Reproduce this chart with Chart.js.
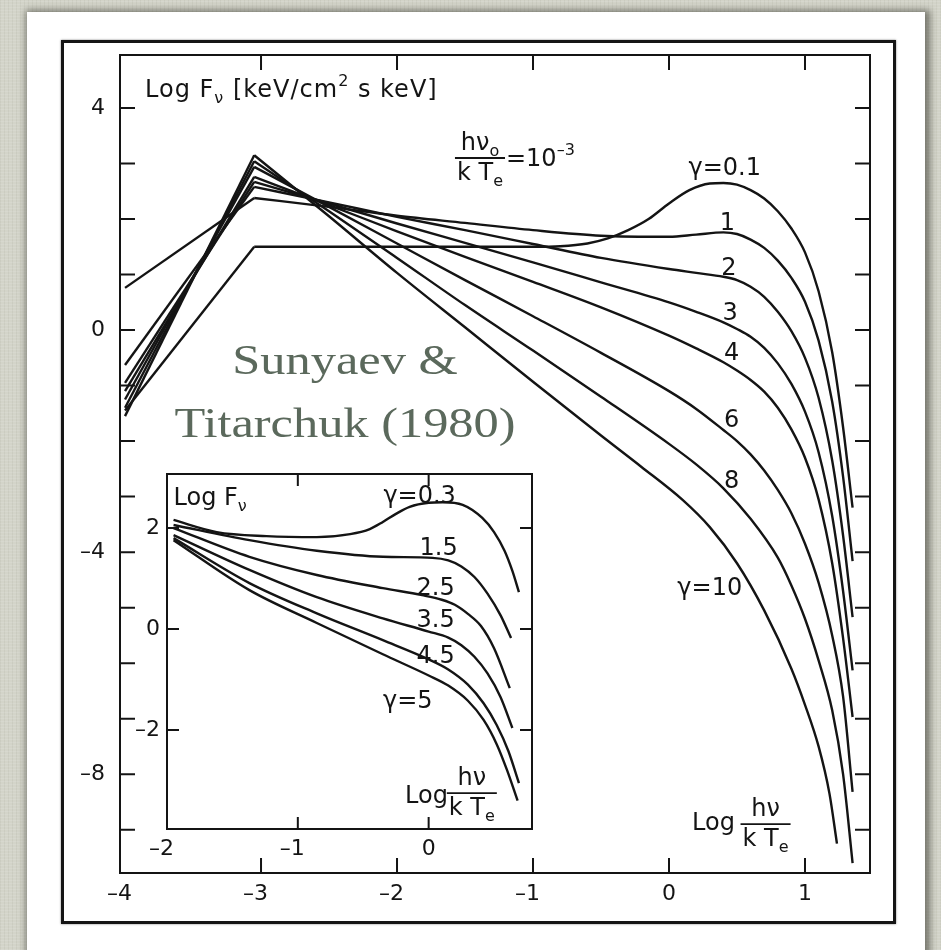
<!DOCTYPE html>
<html>
<head>
<meta charset="utf-8">
<script src="https://cdn.jsdelivr.net/npm/chart.js@4.4.1/dist/chart.umd.min.js"></script>
<style>
  html, body { margin: 0; padding: 0; }
  body {
    width: 941px; height: 950px; position: relative; overflow: hidden;
    background-color: #d3d4c9;
    background-image:
      repeating-linear-gradient(0deg, rgba(255,255,255,.10) 0 1px, transparent 1px 3px),
      repeating-linear-gradient(90deg, rgba(80,80,60,.06) 0 1px, transparent 1px 4px);
  }
  #card {
    position: absolute; left: 27px; top: 12px; width: 898px; height: 950px;
    background: #fff; box-shadow: 2px 1px 7px 3px rgba(55,55,45,.6);
  }
  #frame {
    position: absolute; left: 61px; top: 40px; width: 829px; height: 878px;
    border: 3px solid #151515; box-shadow: 0 0 2px rgba(0,0,0,.5);
  }
  canvas { position: absolute; }
  #main { left: 0; top: 0; }
  #inset { left: 100px; top: 440px; }
  #credit {
    position: absolute; left: 150px; top: 329px; width: 390px;
    text-align: center; color: #5b695c; font: 42px/63px 'Liberation Serif', serif;
    transform: scaleX(1.2); transform-origin: 195px 0;
  }
</style>
</head>
<body>
<div id="card"></div>
<div id="frame"></div>
<canvas id="main" width="941" height="950"></canvas>
<canvas id="inset" width="460" height="440"></canvas>
<div id="credit">Sunyaev &amp;<br>Titarchuk (1980)</div>
<script>
// log(hν/kTe) and log Fν for each γ, main panel (hν0/kTe = 1e-3)
// rising branch below the injected photons
const riseX = [-4.0, -3.05];
const rise01 = [-1.45, 1.5];
const rise1  = [0.76, 2.38];
const rise2  = [-0.63, 2.58];
const rise3  = [-0.95, 2.67];
const rise4  = [-1.1, 2.76];
const rise6  = [-1.25, 2.94];
const rise8  = [-1.4, 3.04];
const rise10 = [-1.55, 3.15];

// Comptonized branch above the injected photons
const g01X = [-3.05, -2.5, -2, -1.5, -1, -0.8, -0.6, -0.45, -0.3, -0.15, 0, 0.15, 0.3, 0.4, 0.5, 0.6, 0.7, 0.8, 0.9, 1.0, 1.1, 1.2, 1.28, 1.35];
const g01Y = [1.5, 1.5, 1.5, 1.5, 1.5, 1.51, 1.56, 1.65, 1.8, 2.0, 2.28, 2.52, 2.64, 2.65, 2.62, 2.52, 2.37, 2.14, 1.83, 1.4, 0.7, -0.4, -1.75, -3.2];
const gX = [-3.05, -2.5, -2, -1.5, -1, -0.5, 0, 0.2, 0.4, 0.5, 0.6, 0.7, 0.8, 0.9, 1.0, 1.1, 1.2, 1.28, 1.35];
const g1Y = [2.38, 2.22, 2.06, 1.93, 1.8, 1.7, 1.68, 1.72, 1.76, 1.73, 1.63, 1.48, 1.25, 0.94, 0.51, -0.19, -1.29, -2.64, -4.16];
const g2Y = [2.58, 2.3, 2.04, 1.8, 1.55, 1.3, 1.1, 1.03, 0.96, 0.9, 0.78, 0.6, 0.33, -0.02, -0.5, -1.22, -2.35, -3.7, -5.17];
const g3Y = [2.67, 2.28, 1.92, 1.57, 1.22, 0.86, 0.5, 0.33, 0.14, 0.02, -0.12, -0.32, -0.6, -0.97, -1.47, -2.2, -3.35, -4.7, -6.13];
const g4Y = [2.76, 2.25, 1.78, 1.32, 0.87, 0.41, -0.1, -0.33, -0.58, -0.73, -0.9, -1.11, -1.4, -1.79, -2.3, -3.05, -4.2, -5.55, -6.97];
const g6Y = [2.94, 2.22, 1.56, 0.9, 0.25, -0.41, -1.1, -1.42, -1.8, -2.0, -2.24, -2.53, -2.88, -3.3, -3.85, -4.55, -5.5, -6.6, -8.32];
const g8X = [-3.05, -2.5, -2, -1.5, -1, -0.5, 0, 0.2, 0.4, 0.6, 0.8, 0.9, 1.0, 1.1, 1.2, 1.28, 1.35];
const g8Y = [3.04, 2.14, 1.3, 0.45, -0.37, -1.2, -2.05, -2.42, -2.85, -3.4, -4.1, -4.6, -5.2, -5.95, -6.85, -8.0, -9.6];
const g10X = [-3.05, -2.5, -2, -1.5, -1, -0.5, -0.2, 0.1, 0.3, 0.5, 0.7, 0.9, 1.0, 1.1, 1.18, 1.235];
const g10Y = [3.15, 2.05, 1.03, 0.05, -0.93, -1.9, -2.47, -3.06, -3.55, -4.2, -5.05, -6.1, -6.75, -7.5, -8.35, -9.25];

// inset panel
const in03X = [-1.95, -1.62, -1.24, -0.855, -0.6, -0.45, -0.35, -0.25, -0.145, 0.0, 0.107, 0.26, 0.41, 0.5, 0.58, 0.64, 0.69];
const in03 = [2.16, 1.92, 1.84, 1.82, 1.88, 1.98, 2.12, 2.28, 2.42, 2.5, 2.51, 2.46, 2.2, 1.92, 1.55, 1.15, 0.73];
const in15X = [-1.95, -1.37, -0.855, -0.35, 0.03, 0.15, 0.25, 0.35, 0.45, 0.55, 0.63];
const in15 = [2.06, 1.76, 1.55, 1.43, 1.41, 1.36, 1.24, 1.03, 0.7, 0.27, -0.18];
const in25X = [-1.95, -1.37, -0.855, -0.35, -0.05, 0.1, 0.2, 0.3, 0.4, 0.5, 0.62];
const in25 = [2.0, 1.43, 1.07, 0.81, 0.67, 0.58, 0.48, 0.3, 0.06, -0.38, -1.17];
const in35X = [-1.95, -1.37, -0.855, -0.35, 0.0, 0.15, 0.25, 0.35, 0.45, 0.55, 0.64];
const in35 = [1.86, 1.17, 0.63, 0.21, -0.05, -0.17, -0.32, -0.55, -0.88, -1.35, -1.96];
const in45X = [-1.95, -1.37, -0.855, -0.35, 0.0, 0.15, 0.3, 0.42, 0.52, 0.61, 0.69];
const in45 = [1.8, 0.91, 0.31, -0.22, -0.6, -0.8, -1.1, -1.47, -1.9, -2.42, -3.05];
const in5X = [-1.95, -1.37, -0.855, -0.35, 0.0, 0.15, 0.3, 0.42, 0.52, 0.6, 0.68];
const in5 = [1.76, 0.77, 0.12, -0.5, -0.92, -1.12, -1.42, -1.8, -2.28, -2.8, -3.4];

const ink = '#141414';
const FONT = "'DejaVu Sans',sans-serif";
const DASH = '\u2013';

const pts = (xs, ys) => xs.map((x, i) => ({ x, y: ys[i] }));
const fmt = v => (v < 0 ? DASH + Math.abs(v) : String(v));

function curve(xs, ys, smooth) {
  return {
    data: pts(xs, ys), showLine: true, pointRadius: 0, borderColor: ink,
    borderWidth: 2.4, tension: 0, cubicInterpolationMode: smooth ? 'monotone' : 'default'
  };
}

function fontFor(kind, size) {
  return (kind === 'n' ? size : Math.round(size * 0.68)) + 'px ' + FONT;
}
function richWidth(ctx, parts, size) {
  let w = 0;
  parts.forEach(([t, k]) => { ctx.font = fontFor(k, size); w += ctx.measureText(t).width; });
  return w;
}
function drawRich(ctx, x, y, parts, size, align) {
  const w = richWidth(ctx, parts, size);
  let cx = align === 'center' ? x - w / 2 : align === 'right' ? x - w : x;
  ctx.textAlign = 'left';
  ctx.textBaseline = 'alphabetic';
  parts.forEach(([t, k]) => {
    ctx.font = fontFor(k, size);
    const dy = k === 'sub' ? size * 0.25 : k === 'sup' ? -size * 0.45 : 0;
    ctx.fillText(t, cx, y + dy);
    cx += ctx.measureText(t).width;
  });
  return w;
}
function drawFrac(ctx, cx, ly, num, den, size) {
  const w = Math.max(richWidth(ctx, num, size), richWidth(ctx, den, size)) + 4;
  drawRich(ctx, cx, ly - 8, num, size, 'center');
  drawRich(ctx, cx, ly + size * 0.9, den, size, 'center');
  ctx.beginPath();
  ctx.moveTo(cx - w / 2, ly);
  ctx.lineTo(cx + w / 2, ly);
  ctx.lineWidth = 1.8;
  ctx.stroke();
  return w;
}

// axes box with inward ticks on all four sides
const boxTicks = {
  id: 'boxTicks',
  beforeDatasetsDraw(chart, args, opts) {
    if (!opts.fill) return;
    const a = chart.chartArea;
    chart.ctx.save();
    chart.ctx.fillStyle = '#fff';
    chart.ctx.fillRect(a.left, a.top, a.width, a.height);
    chart.ctx.restore();
  },
  afterDatasetsDraw(chart, args, opts) {
    const { ctx, chartArea: a, scales: { x, y } } = chart;
    ctx.save();
    ctx.strokeStyle = ink;
    ctx.lineWidth = opts.lineWidth;
    ctx.strokeRect(a.left, a.top, a.width, a.height);
    ctx.beginPath();
    x.ticks.forEach(t => {
      const p = x.getPixelForValue(t.value);
      if (p - a.left < 10 || a.right - p < 10) return;
      ctx.moveTo(p, a.bottom); ctx.lineTo(p, a.bottom - opts.len);
      ctx.moveTo(p, a.top); ctx.lineTo(p, a.top + opts.len);
    });
    y.ticks.forEach(t => {
      const p = y.getPixelForValue(t.value);
      if (p - a.top < 10 || a.bottom - p < 10) return;
      ctx.moveTo(a.left, p); ctx.lineTo(a.left + opts.len, p);
      ctx.moveTo(a.right, p); ctx.lineTo(a.right - opts.len, p);
    });
    ctx.stroke();
    ctx.restore();
  }
};

const mainText = {
  id: 'mainText',
  afterDraw(chart) {
    const { ctx, scales: { x, y } } = chart;
    const X = v => x.getPixelForValue(v), Y = v => y.getPixelForValue(v);
    ctx.save();
    ctx.fillStyle = ink; ctx.strokeStyle = ink;
    ctx.letterSpacing = '1px';
    drawRich(ctx, X(-3.853), Y(4.2), [['Log F', 'n'], ['ν', 'sub'], [' [keV/cm', 'n'], ['2', 'sup'], [' s keV]', 'n']], 24, 'left');
    ctx.letterSpacing = '0px';
    const w = drawFrac(ctx, X(-1.39), Y(3.1), [['hν', 'n'], ['o', 'sub']], [['k T', 'n'], ['e', 'sub']], 24);
    drawRich(ctx, X(-1.39) + w / 2 + 1, Y(3.1) + 8, [['=10', 'n'], [DASH + '3', 'sup']], 24, 'left');
    [['γ=0.1', 0.41, 2.79], ['1', 0.43, 1.8], ['2', 0.44, 0.99], ['3', 0.45, 0.18],
     ['4', 0.46, -0.54], ['6', 0.46, -1.75], ['8', 0.46, -2.85], ['γ=10', 0.3, -4.77]]
      .forEach(([t, lx, ly]) => drawRich(ctx, X(lx), Y(ly), [[t, 'n']], 24, 'center'));
    drawRich(ctx, X(0.17), Y(-9.0), [['Log', 'n']], 24, 'left');
    drawFrac(ctx, X(0.71), Y(-8.9), [['hν', 'n']], [['k T', 'n'], ['e', 'sub']], 24);
    ctx.restore();
  }
};

const insetText = {
  id: 'insetText',
  afterDraw(chart) {
    const { ctx, scales: { x, y } } = chart;
    const X = v => x.getPixelForValue(v), Y = v => y.getPixelForValue(v);
    ctx.save();
    ctx.fillStyle = ink; ctx.strokeStyle = ink;
    drawRich(ctx, X(-1.95), Y(2.46), [['Log F', 'n'], ['ν', 'sub']], 24, 'left');
    [['γ=0.3', -0.069, 2.5], ['1.5', 0.076, 1.47], ['2.5', 0.053, 0.67], ['3.5', 0.053, 0.04],
     ['4.5', 0.053, -0.67], ['γ=5', -0.16, -1.56]]
      .forEach(([t, lx, ly]) => drawRich(ctx, X(lx), Y(ly), [[t, 'n']], 24, 'center'));
    drawRich(ctx, X(-0.18), Y(-3.45), [['Log', 'n']], 24, 'left');
    drawFrac(ctx, X(0.33), Y(-3.25), [['hν', 'n']], [['k T', 'n'], ['e', 'sub']], 24);
    ctx.restore();
  }
};

function axis(min, max, step, extra) {
  return Object.assign({
    type: 'linear', min, max,
    grid: { display: false, drawTicks: false },
    border: { display: false },
    ticks: {
      stepSize: step, includeBounds: false, autoSkip: false, maxRotation: 0,
      color: ink, font: { family: FONT, size: 22 }
    }
  }, extra);
}

const mainSets = [
  curve(riseX, rise01), curve(riseX, rise1), curve(riseX, rise2), curve(riseX, rise3),
  curve(riseX, rise4), curve(riseX, rise6), curve(riseX, rise8), curve(riseX, rise10),
  curve(g01X, g01Y, true), curve(gX, g1Y, true), curve(gX, g2Y, true), curve(gX, g3Y, true),
  curve(gX, g4Y, true), curve(gX, g6Y, true), curve(g8X, g8Y, true), curve(g10X, g10Y, true)
];

const mx = axis(-4.037, 1.478, 1, { afterFit: s => { s.height = 40; } });
mx.ticks.padding = 8;
mx.ticks.callback = v => (v < 0 ? fmt(v) + '\u2002' : String(v));
const my = axis(-9.78, 4.955, 1, { afterFit: s => { s.width = 120; } });
my.ticks.padding = 15;
my.ticks.callback = v => (v % 4 === 0 ? fmt(v) : '');

new Chart(document.getElementById('main'), {
  type: 'scatter',
  data: { datasets: mainSets },
  options: {
    responsive: false, animation: false,
    layout: { padding: { left: 0, top: 55, right: 71, bottom: 37 } },
    plugins: { legend: { display: false }, tooltip: { enabled: false },
               boxTicks: { lineWidth: 2, len: 15, fill: false } },
    scales: { x: mx, y: my }
  },
  plugins: [boxTicks, mainText]
});

const insetSets = [
  curve(in03X, in03, true), curve(in15X, in15, true), curve(in25X, in25, true),
  curve(in35X, in35, true), curve(in45X, in45, true), curve(in5X, in5, true)
];

const ix = axis(-2, 0.79, 1, { afterFit: s => { s.height = 40; } });
ix.ticks.padding = 7;
ix.ticks.callback = v => (v < 0 ? fmt(v) + '\u2002' : String(v));
const iy = axis(-3.96, 3.07, 2, { afterFit: s => { s.width = 67; } });
iy.ticks.padding = 7;
iy.ticks.callback = v => fmt(v);

new Chart(document.getElementById('inset'), {
  type: 'scatter',
  data: { datasets: insetSets },
  options: {
    responsive: false, animation: false,
    layout: { padding: { left: 0, top: 34, right: 28, bottom: 11 } },
    plugins: { legend: { display: false }, tooltip: { enabled: false },
               boxTicks: { lineWidth: 2, len: 12, fill: true } },
    scales: { x: ix, y: iy }
  },
  plugins: [boxTicks, insetText]
});
</script>
</body>
</html>
